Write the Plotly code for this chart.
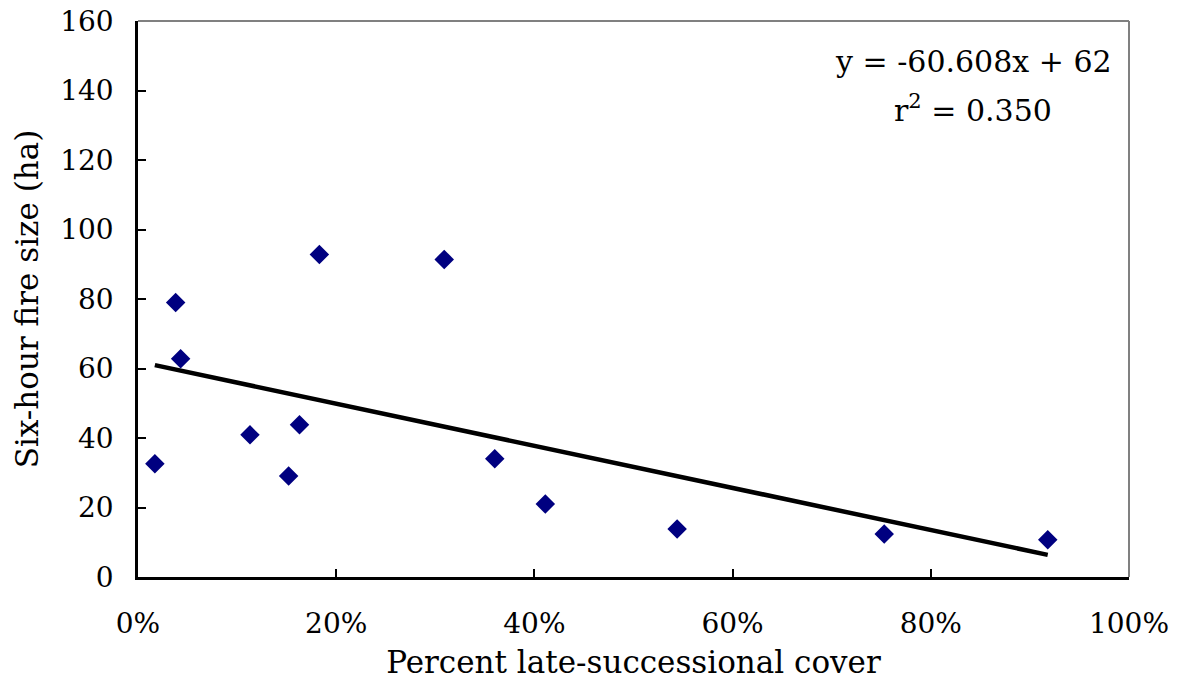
import numpy as np
import plotly.graph_objects as go

# Fraction of late-successional cover and six-hour fire size (ha)
late_cover = [0.017, 0.038, 0.043, 0.113, 0.152, 0.163, 0.183, 0.309, 0.360, 0.411, 0.544, 0.753, 0.918]
fire_size = [32.6, 79.0, 62.8, 40.9, 29.1, 43.8, 92.8, 91.4, 34.0, 21.0, 13.8, 12.4, 10.7]

# Published regression
slope = -60.608
intercept = 62.0
r_squared = 0.350

x_fit = np.array([min(late_cover), max(late_cover)])
y_fit = slope * x_fit + intercept

FONT = "DejaVu Serif"

fig = go.Figure()
fig.add_trace(go.Scatter(
    x=x_fit, y=y_fit, mode="lines",
    line=dict(color="black", width=4.5), hoverinfo="skip", showlegend=False,
))
fig.add_trace(go.Scatter(
    x=late_cover, y=fire_size, mode="markers",
    marker=dict(symbol="diamond", size=15, color="#000080", line=dict(width=0)),
    showlegend=False,
))

fig.update_layout(
    width=1184, height=685,
    margin=dict(l=138, r=55, t=21, b=108, autoexpand=False),
    paper_bgcolor="white", plot_bgcolor="white",
    font=dict(family=FONT, size=25.5, color="black"),
    xaxis=dict(
        range=[0, 1], tickvals=[0, 0.2, 0.4, 0.6, 0.8, 1.0], tickformat=".0%",
        showgrid=False, zeroline=False, automargin=False,
        showline=True, linecolor="black", linewidth=2.5,
        ticks="inside", ticklen=8, tickwidth=2, tickcolor="black",
        tickfont=dict(size=28), ticklabelstandoff=20,
        title=dict(text="Percent late-successional cover", standoff=12),
    ),
    yaxis=dict(
        range=[0, 160], tickvals=list(range(0, 161, 20)),
        showgrid=False, zeroline=False, automargin=False,
        showline=True, linecolor="black", linewidth=2.5,
        ticks="inside", ticklen=8, tickwidth=2, tickcolor="black",
        tickfont=dict(size=28), ticklabelstandoff=16,
        title=dict(text="Six-hour fire size (ha)", standoff=13),
    ),
    shapes=[
        dict(type="line", xref="paper", yref="paper", x0=0, x1=1, y0=1, y1=1,
             line=dict(color="#808080", width=2)),
        dict(type="line", xref="paper", yref="paper", x0=1, x1=1, y0=0, y1=1,
             line=dict(color="#808080", width=2)),
    ],
    annotations=[
        dict(xref="paper", yref="paper", x=0.843, y=0.928, showarrow=False,
             text=f"y = {slope:.3f}x + {intercept:g}", font=dict(size=30),
             xanchor="center", yanchor="middle"),
        dict(xref="paper", yref="paper", x=0.843, y=0.842, showarrow=False,
             text=f"r<sup>2</sup> = {r_squared:.3f}", font=dict(size=30),
             xanchor="center", yanchor="middle"),
    ],
)

fig.write_html("out.html")
